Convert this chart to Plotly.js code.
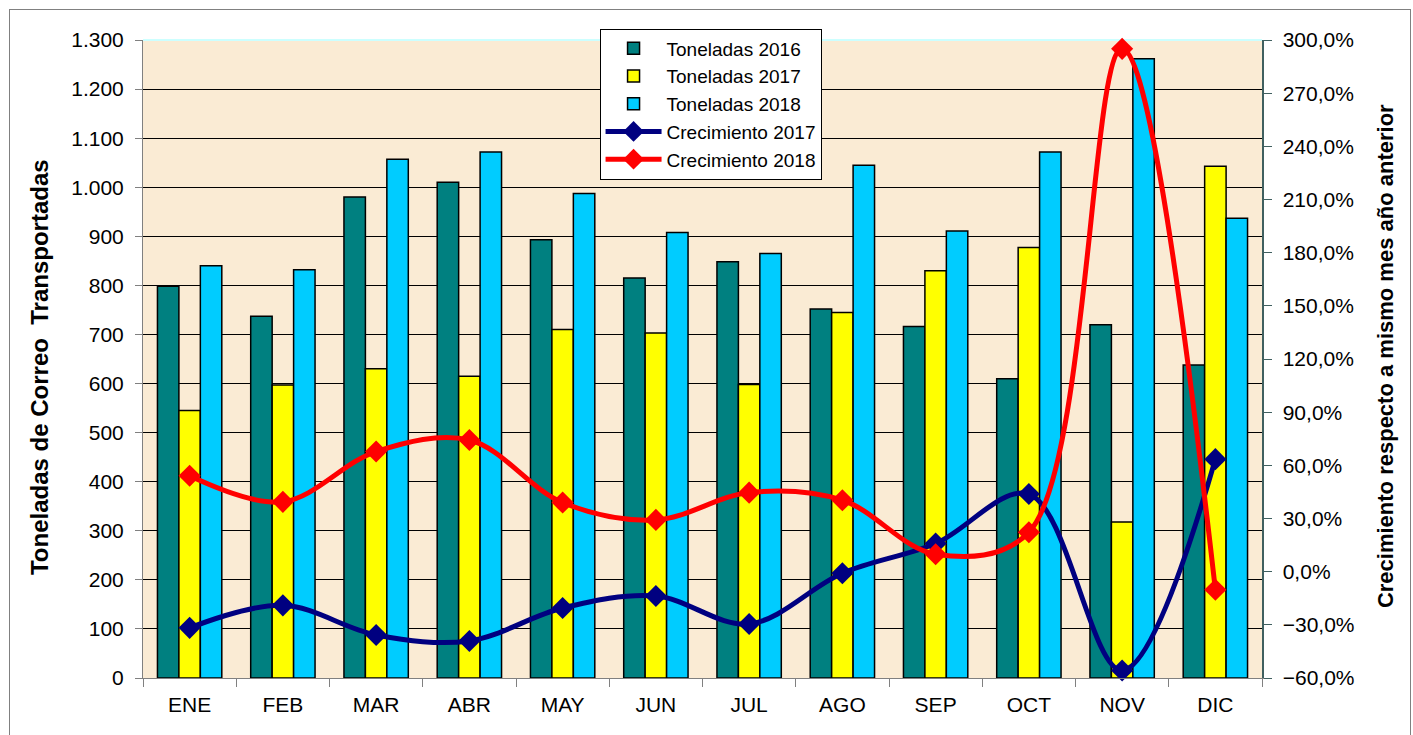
<!DOCTYPE html>
<html>
<head>
<meta charset="utf-8">
<script src="https://cdn.plot.ly/plotly-3.0.1.min.js"></script>
<style>
html,body{margin:0;padding:0;background:#fff;}
#chart{width:1413px;height:735px;position:absolute;left:0;top:0;}
#frame{position:absolute;left:9px;top:9px;width:1400px;height:740px;border:1px solid #808080;pointer-events:none;}
</style>
</head>
<body>
<div id="chart"></div>
<div id="frame"></div>
<script>
const months = ["ENE","FEB","MAR","ABR","MAY","JUN","JUL","AGO","SEP","OCT","NOV","DIC"];
const ton2016 = [798, 737, 980, 1010, 893, 815, 848, 752, 716, 610, 720, 638];
const ton2017 = [545, 597, 630, 615, 710, 703, 598, 745, 830, 877, 318, 1043];
const ton2018 = [840, 832, 1057, 1072, 987, 908, 865, 1045, 911, 1072, 1262, 937];
const crec2017 = [-31.7, -19.0, -35.7, -39.1, -20.5, -13.7, -29.5, -0.9, 15.9, 43.8, -55.8, 63.5];
const crec2018 = [54.1, 39.4, 67.8, 74.3, 39.0, 29.2, 44.6, 40.3, 9.8, 22.2, 295.0, -10.2];

const font = "Arial, 'Liberation Sans', sans-serif";
const barLine = {color: "#000000", width: 1.5};

const traces = [
  {type:"bar", name:"Toneladas 2016", x:months, y:ton2016, marker:{color:"#008080", line:barLine}},
  {type:"bar", name:"Toneladas 2017", x:months, y:ton2017, marker:{color:"#FFFF00", line:barLine}},
  {type:"bar", name:"Toneladas 2018", x:months, y:ton2018, marker:{color:"#00CCFF", line:barLine}},
  {type:"scatter", mode:"lines+markers", name:"Crecimiento 2017", x:months, y:crec2017, yaxis:"y2",
   line:{color:"#000080", width:5, shape:"spline", smoothing:1}, marker:{symbol:"diamond", size:17, color:"#000080"}, cliponaxis:false},
  {type:"scatter", mode:"lines+markers", name:"Crecimiento 2018", x:months, y:crec2018, yaxis:"y2",
   line:{color:"#FF0000", width:5, shape:"spline", smoothing:1}, marker:{symbol:"diamond", size:17, color:"#FF0000"}, cliponaxis:false}
];

const layout = {
  width:1413, height:735,
  margin:{l:143, r:151, t:40, b:57},
  paper_bgcolor:"#ffffff",
  plot_bgcolor:"#FAEBD4",
  separators:",.",
  font:{family:font, size:21, color:"#000000"},
  barmode:"group", bargap:0.31, bargroupgap:0,
  showlegend:true,
  legend:{x:0.408, y:1.018, xanchor:"left", yanchor:"top", bgcolor:"#ffffff", bordercolor:"#000000", borderwidth:1,
          font:{family:font, size:19, color:"#000000"}, traceorder:"normal", tracegroupgap:0, itemwidth:56},
  xaxis:{type:"category", range:[-0.5, 11.5], autorange:false, showline:true, linecolor:"#808080", linewidth:1,
         ticks:"outside", tickson:"boundaries", ticklen:8, tickcolor:"#808080", showgrid:false, ticklabelstandoff:8,
         tickfont:{family:font, size:21, color:"#000000"}, fixedrange:true},
  yaxis:{range:[0,1300], autorange:false, dtick:100, tick0:0, tickformat:",d", showgrid:true, gridcolor:"#000000", gridwidth:1,
         zeroline:false, showline:true, linecolor:"#808080", linewidth:1, ticks:"outside", ticklen:7, tickcolor:"#808080",
         ticklabelstandoff:7, tickfont:{family:font, size:21, color:"#000000"}, automargin:false},
  yaxis2:{overlaying:"y", side:"right", range:[-60,300], autorange:false, dtick:30, tick0:0, tickformat:".1f", ticksuffix:"%",
          showgrid:false, zeroline:false, showline:true, linecolor:"#406060", linewidth:1.5, ticks:"outside", ticklen:8,
          tickcolor:"#406060", ticklabelstandoff:7, tickfont:{family:font, size:21, color:"#000000"}, automargin:false},
  annotations:[
    {text:"<b>Toneladas de Correo  Transportadas</b>", xref:"paper", yref:"paper", x:-0.092, y:0.4875,
     xanchor:"center", yanchor:"middle", textangle:-90, showarrow:false, font:{family:font, size:24, color:"#000000"}},
    {text:"<b>Crecimiento respecto a mismo mes año anterior</b>", xref:"paper", yref:"paper", x:1.110, y:0.5047,
     xanchor:"center", yanchor:"middle", textangle:-90, showarrow:false, font:{family:font, size:22, color:"#000000"}}
  ],
  shapes:[{type:"line", xref:"paper", yref:"paper", x0:0, x1:1, y0:1, y1:1, line:{color:"#CCFFFF", width:2}, layer:"below"}]
};

Plotly.newPlot("chart", traces, layout, {displayModeBar:false, staticPlot:true});
</script>
</body>
</html>
